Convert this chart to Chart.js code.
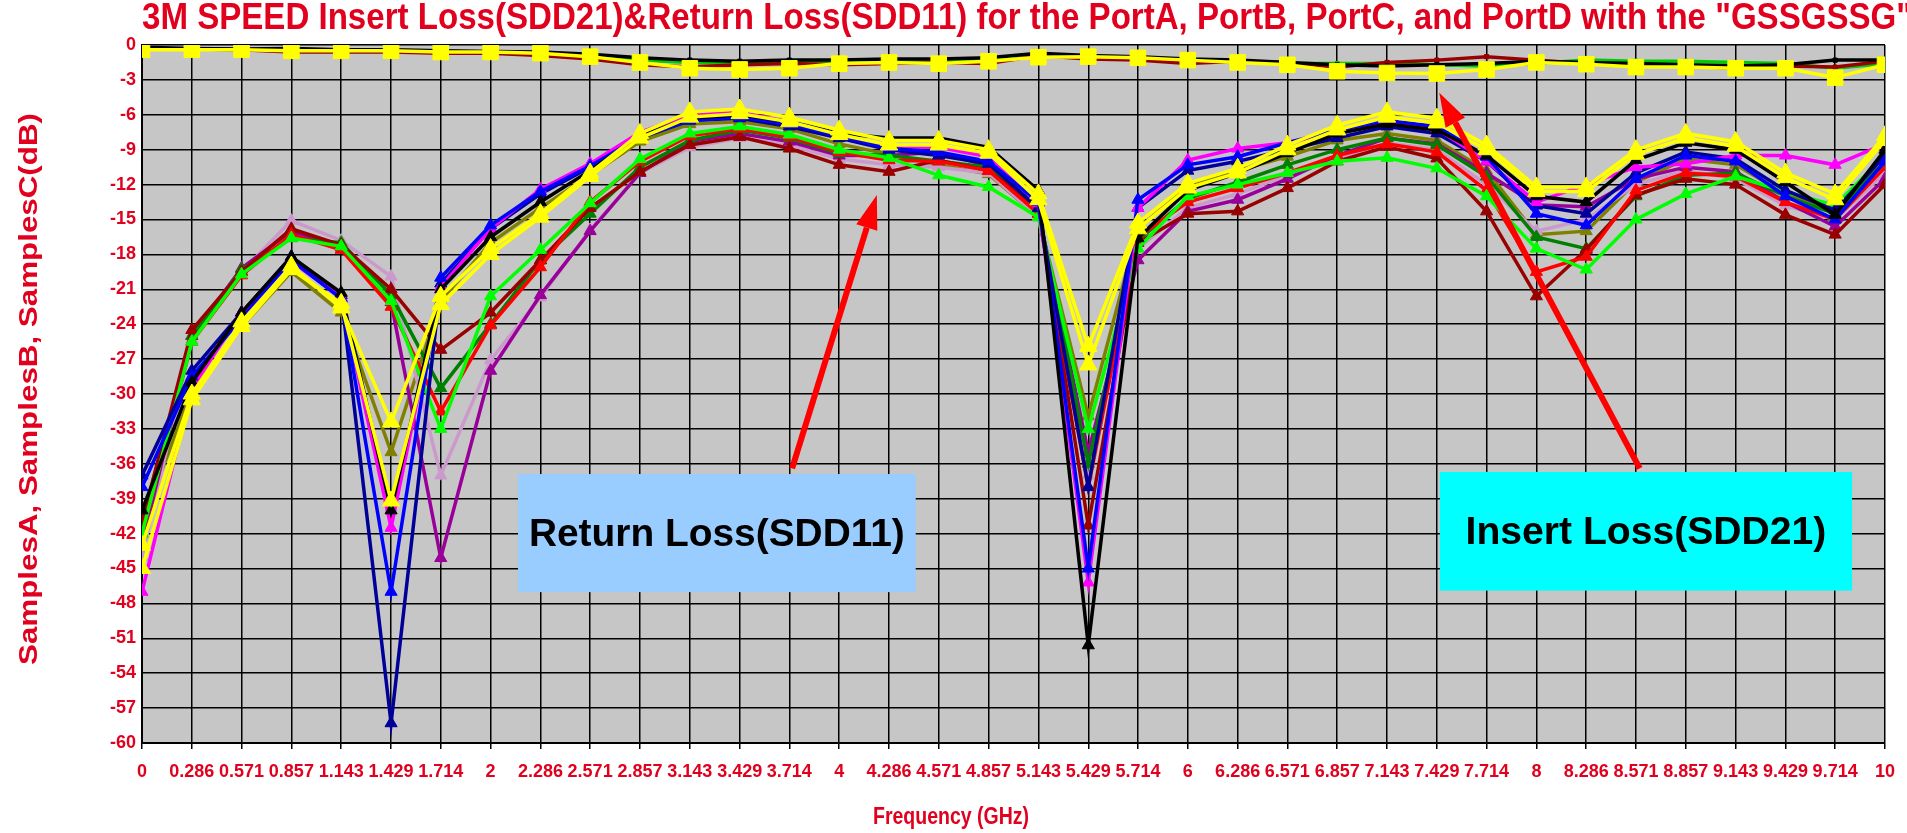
<!DOCTYPE html>
<html>
<head>
<meta charset="utf-8">
<script src="https://cdn.jsdelivr.net/npm/chart.js@4.4.1/dist/chart.umd.min.js"></script>
<style>
  html, body { margin: 0; padding: 0; background: #fff; }
  #wrap { width: 1907px; height: 833px; position: relative; }
</style>
</head>
<body>
<div id="wrap"><canvas id="lossChart"></canvas></div>
<script>
// Frequency ticks (GHz), as printed under the axis
const freqLabels = ['0', '0.286', '0.571', '0.857', '1.143', '1.429', '1.714', '2', '2.286', '2.571',
  '2.857', '3.143', '3.429', '3.714', '4', '4.286', '4.571', '4.857', '5.143', '5.429', '5.714', '6',
  '6.286', '6.571', '6.857', '7.143', '7.429', '7.714', '8', '8.286', '8.571', '8.857', '9.143',
  '9.429', '9.714', '10'];
const freq = freqLabels.map(Number);
const dbTicks = [0, -3, -6, -9, -12, -15, -18, -21, -24, -27, -30, -33, -36, -39, -42, -45, -48, -51, -54, -57, -60];

// Insert loss (SDD21), dB
const ilYellow = [-0.4, -0.4, -0.4, -0.5, -0.5, -0.5, -0.6, -0.6, -0.7, -1.0, -1.5, -2.0, -2.1, -2.0, -1.6, -1.5, -1.6, -1.4,
  -1.05, -1.0, -1.1, -1.3, -1.5, -1.7, -2.25, -2.4, -2.45, -2.1, -1.5, -1.65, -1.9, -1.9, -2.0, -2.0, -2.8, -1.7];
const ilBlack = [-0.2, -0.3, -0.35, -0.3, -0.4, -0.4, -0.5, -0.55, -0.6, -0.8, -1.1, -1.3, -1.4, -1.3, -1.3, -1.2, -1.2, -1.1,
  -0.7, -0.9, -1.0, -1.2, -1.3, -1.5, -1.7, -1.8, -1.7, -1.6, -1.4, -1.5, -1.6, -1.7, -1.8, -1.7, -1.3, -1.3];
const ilDarkRed = [-0.3, -0.35, -0.4, -0.6, -0.6, -0.6, -0.7, -0.7, -0.9, -1.2, -1.7, -1.9, -1.7, -1.6, -1.7, -1.6, -1.5, -1.6,
  -0.9, -1.2, -1.3, -1.6, -1.4, -1.5, -1.9, -1.5, -1.3, -1.0, -1.3, -1.6, -1.7, -1.8, -2.0, -1.8, -1.9, -1.4];
const ilGreen = [-0.3, -0.35, -0.4, -0.45, -0.5, -0.5, -0.6, -0.6, -0.7, -0.9, -1.3, -1.5, -1.6, -1.5, -1.5, -1.4, -1.4, -1.3,
  -0.9, -1.1, -1.2, -1.3, -1.4, -1.6, -1.6, -1.6, -1.7, -1.8, -1.6, -1.3, -1.4, -1.4, -1.5, -1.6, -2.0, -1.6];

// Return loss (SDD11), dB
const rlYellowA = [-43, -30, -23.8, -19, -22.6, -32.4, -21.6, -17.5, -14.5, -11, -7.6, -5.75, -5.5, -6.2, -7.3, -8.2, -8.2, -9.0,
  -12.8, -25.9, -15.3, -11.9, -10.6, -8.6, -6.9, -5.75, -6.3, -8.6, -12.2, -12.2, -9.0, -7.6, -8.3, -11.0, -12.8, -7.8];
const rlYellowB = [-45, -30.5, -24.2, -19.3, -22.2, -39.2, -22.3, -18.0, -14.8, -11.3, -8.0, -6.2, -5.9, -6.6, -7.7, -8.6, -8.6, -9.3,
  -13.3, -27.5, -15.8, -12.3, -11.0, -9.0, -7.3, -6.2, -6.7, -9.0, -12.6, -12.6, -9.4, -8.0, -8.7, -11.4, -13.3, -8.2];
const rlBlack = [-40, -29, -23, -18.2, -21.3, -40, -21, -16.5, -13.5, -10.8, -7.8, -6.3, -6.0, -6.6, -7.6, -8.0, -8.0, -8.8,
  -12.5, -51.6, -16.6, -12.5, -11, -9.3, -7.6, -6.8, -7.3, -9.5, -13, -13.5, -9.9, -8.4, -9.0, -11.8, -14.6, -9.0];
const rlBlue = [-38, -28.5, -23.5, -18.5, -21.8, -47, -20, -15.5, -12.6, -10.4, -7.9, -6.5, -6.2, -6.8, -7.8, -8.9, -9.2, -10.0,
  -13.5, -45, -13.3, -10.3, -9.6, -8.4, -7.3, -6.5, -7.0, -9.6, -14.5, -15.5, -11.5, -9.5, -10.0, -13.0, -15.0, -10.0];
const rlNavy = [-37, -28, -23, -18.2, -21.5, -58.3, -20.5, -15.8, -12.8, -10.5, -8.0, -6.5, -6.3, -7.0, -8.0, -9.0, -9.5, -10.2,
  -14.0, -38, -14.0, -10.8, -10.0, -9.0, -8.0, -7.0, -7.6, -10.0, -13.8, -14.5, -11.0, -9.2, -9.8, -12.5, -14.2, -9.5];
const rlMagenta = [-47, -29.5, -23, -18.6, -21.7, -41.5, -20.8, -15.8, -12.4, -10.2, -7.5, -6.0, -5.8, -6.6, -7.8, -8.8, -8.8, -9.6,
  -13.6, -46.2, -14.0, -9.9, -8.9, -8.4, -7.5, -6.6, -7.2, -10.0, -13.5, -12.0, -10.5, -10.2, -9.5, -9.5, -10.3, -8.5];
const rlOlive = [-41, -29.8, -24.2, -19.5, -23, -35, -22.0, -17.0, -14.0, -11.2, -8.3, -6.8, -6.6, -7.2, -8.5, -9.4, -10.3, -11.1,
  -14.8, -31.9, -15.8, -12.2, -10.8, -9.6, -8.2, -7.6, -8.2, -10.8, -16.3, -16.0, -11.8, -9.8, -10.3, -12.8, -14.2, -9.8];
const rlPurple = [-43, -25, -19.2, -16.0, -17.4, -22.1, -44.1, -28, -21.5, -16, -11.0, -8.3, -7.6, -8.3, -9.5, -9.5, -9.2, -10.4,
  -14.5, -35, -18.5, -14.3, -13.3, -11.5, -9.5, -8.0, -8.5, -11.0, -13.75, -13.9, -11.5, -10.5, -10.9, -13.5, -15.6, -11.5];
const rlDarkRed = [-41, -24.5, -19.5, -15.8, -17.2, -21, -26.2, -23.0, -18.5, -14, -10.9, -8.6, -7.9, -8.9, -10.3, -10.9, -9.9, -10.8,
  -14.0, -41.3, -17, -14.5, -14.3, -12.3, -10.0, -8.75, -9.75, -14.3, -21.6, -17.6, -12.9, -11.5, -12.0, -14.6, -16.3, -12.0];
const rlRed = [-42, -25.5, -19.8, -16.3, -17.6, -22.5, -31.5, -24.1, -19.1, -13.5, -10, -7.8, -7.2, -7.9, -9.2, -9.9, -10.0, -10.8,
  -14.5, -38, -16.5, -13.5, -12.3, -11, -9.5, -8.5, -9.2, -12.5, -19.5, -18.2, -12.5, -11.0, -11.3, -13.5, -15.0, -10.5];
const rlLime = [-42, -25.5, -19.7, -16.6, -17.3, -22, -33, -21.6, -17.6, -13.6, -9.8, -7.6, -7.0, -7.7, -9.0, -9.7, -11.2, -12.2,
  -14.8, -33, -17.5, -13, -12, -11, -10, -9.7, -10.6, -13, -17.5, -19.3, -15.0, -12.8, -11.3, -12.6, -13.8, -9.5];
const rlGreen = [-41, -25, -19.3, -16.6, -17.0, -21.5, -29.5, -24, -18.5, -14.5, -10.5, -8.2, -7.3, -8.0, -9.3, -9.5, -10.0, -10.5,
  -14.2, -36, -16.8, -13.2, -11.8, -10.3, -9.0, -8.0, -8.6, -11.3, -16.5, -17.5, -13.0, -11.2, -11.0, -13.0, -14.5, -10.0];
const rlLavender = [-44, -25.3, -19.5, -15.1, -16.8, -19.9, -37, -27.1, -21.7, -15.9, -11.0, -8.8, -8.0, -8.6, -9.8, -10.3, -10.5, -11.0,
  -14.8, -37, -17.5, -14.0, -12.8, -11.2, -9.8, -8.4, -9.0, -12.0, -16.0, -15.0, -12.0, -10.8, -11.5, -13.8, -15.0, -11.0];

// Callout boxes and arrows, placed in data units (GHz, dB)
const notes = [
  { text: 'Return Loss(SDD11)', x0: 2.157, x1: 4.439, y0: -36.88, y1: -47.03, fill: '#99ccff', textFrac: 0.945 },
  { text: 'Insert Loss(SDD21)', x0: 7.446, x1: 9.811, y0: -36.7, y1: -46.9, fill: '#00ffff', textFrac: 0.875 }
];
const arrows = [
  { from: [3.73, -36.4], to: [4.216, -12.9] },
  { from: [8.593, -36.4], to: [7.443, -4.1] }
];

const RED = '#e1001e';
const FONT = "'Liberation Sans', Arial, sans-serif";
const TITLE = '3M SPEED Insert Loss(SDD21)&Return Loss(SDD11) for the PortA, PortB, PortC, and PortD with the "GSSGSSG"';

function pts(values) {
  return values.map((v, i) => ({ x: freq[i], y: v }));
}

function line(label, values, color, style, radius) {
  return {
    label: label,
    data: pts(values),
    borderColor: color,
    backgroundColor: color,
    pointBackgroundColor: color,
    pointBorderColor: color,
    pointBorderWidth: 1,
    borderWidth: 3.5,
    pointStyle: style,
    pointRadius: radius,
    tension: 0
  };
}

// first dataset ends up on top
const datasets = [
  line('SDD21 A', ilYellow, '#ffff00', 'rect', 11),
  line('SDD11 A1', rlYellowA, '#ffff00', 'triangle', 10),
  line('SDD11 A2', rlYellowB, '#ffff00', 'triangle', 10),
  line('SDD21 B', ilBlack, '#000000', 'rect', 3),
  line('SDD21 C', ilDarkRed, '#990000', 'rect', 3),
  line('SDD21 D', ilGreen, '#00cc00', 'rect', 3),
  line('SDD11 B1', rlBlack, '#000000', 'triangle', 7),
  line('SDD11 B2', rlBlue, '#0000ff', 'triangle', 7),
  line('SDD11 B3', rlMagenta, '#ff00ff', 'triangle', 7),
  line('SDD11 B4', rlNavy, '#000099', 'triangle', 7),
  line('SDD11 C1', rlLime, '#00ff00', 'triangle', 7),
  line('SDD11 C2', rlRed, '#ff0000', 'triangle', 7),
  line('SDD11 C3', rlDarkRed, '#990000', 'triangle', 7),
  line('SDD11 C4', rlGreen, '#008000', 'triangle', 7),
  line('SDD11 D1', rlPurple, '#990099', 'triangle', 7),
  line('SDD11 D2', rlLavender, '#cc99cc', 'triangle', 7),
  line('SDD11 D3', rlOlive, '#808000', 'triangle', 7)
];

// text squeezed or stretched to a given width
function fitText(ctx, text, cx, cy, width, size, color, rotation) {
  ctx.save();
  ctx.translate(cx, cy);
  if (rotation) ctx.rotate(rotation);
  ctx.font = 'bold ' + size + 'px ' + FONT;
  const w = ctx.measureText(text).width;
  ctx.scale(width / w, 1);
  ctx.fillStyle = color;
  ctx.textAlign = 'center';
  ctx.textBaseline = 'middle';
  ctx.fillText(text, 0, 0);
  ctx.restore();
}

function drawArrow(ctx, x0, y0, x1, y1) {
  const ang = Math.atan2(y1 - y0, x1 - x0);
  const head = 34, half = 11;
  const bx = x1 - head * Math.cos(ang), by = y1 - head * Math.sin(ang);
  ctx.save();
  ctx.strokeStyle = '#ff0000';
  ctx.fillStyle = '#ff0000';
  ctx.lineWidth = 6;
  ctx.beginPath();
  ctx.moveTo(x0, y0);
  ctx.lineTo(bx, by);
  ctx.stroke();
  ctx.beginPath();
  ctx.moveTo(x1, y1);
  ctx.lineTo(bx + half * Math.sin(ang), by - half * Math.cos(ang));
  ctx.lineTo(bx - half * Math.sin(ang), by + half * Math.cos(ang));
  ctx.closePath();
  ctx.fill();
  ctx.restore();
}

const decorations = {
  id: 'decorations',
  beforeDraw(chart) {
    const { ctx, chartArea: a } = chart;
    ctx.save();
    ctx.fillStyle = '#ffffff';
    ctx.fillRect(0, 0, chart.width, chart.height);
    ctx.fillStyle = '#c6c6c6';
    ctx.fillRect(a.left, a.top, a.right - a.left, a.bottom - a.top);
    ctx.restore();
  },
  afterDatasetsDraw(chart) {
    const { ctx, scales: { x, y } } = chart;
    notes.forEach(n => {
      const l = x.getPixelForValue(n.x0), r = x.getPixelForValue(n.x1);
      const t = y.getPixelForValue(n.y0), b = y.getPixelForValue(n.y1);
      ctx.fillStyle = n.fill;
      ctx.fillRect(l, t, r - l, b - t);
      fitText(ctx, n.text, (l + r) / 2, (t + b) / 2 + 2, (r - l) * n.textFrac, 38, '#000000');
    });
    arrows.forEach(a => {
      drawArrow(ctx, x.getPixelForValue(a.from[0]), y.getPixelForValue(a.from[1]),
        x.getPixelForValue(a.to[0]), y.getPixelForValue(a.to[1]));
    });
  },
  afterDraw(chart) {
    const { ctx, chartArea: a } = chart;
    // main title starts at the plot's left edge and runs off the right side
    fitText(ctx, TITLE, a.left + 1770 / 2, 19, 1770, 36, RED);
    fitText(ctx, 'SamplesA, SamplesB, SamplesC(dB)', 30, (a.top + a.bottom) / 2 - 5, 552, 26, RED, -Math.PI / 2);
    fitText(ctx, 'Frequency (GHz)', 951, 817, 156, 24, RED);
  }
};

const ctx = document.getElementById('lossChart').getContext('2d');
new Chart(ctx, {
  type: 'line',
  data: { datasets: datasets },
  options: {
    responsive: true,
    maintainAspectRatio: false,
    animation: false,
    events: [],
    layout: { padding: { left: 0, right: 17, top: 45, bottom: 0 } },
    plugins: {
      legend: { display: false },
      tooltip: { enabled: false },
      title: { display: false }
    },
    scales: {
      x: {
        type: 'linear',
        min: 0,
        max: 10,
        afterBuildTicks: axis => { axis.ticks = freq.map(v => ({ value: v })); },
        afterFit: axis => { axis.height = 90; },
        grid: { color: '#000000', lineWidth: 1.5, drawTicks: true, tickLength: 6, tickColor: '#000000' },
        border: { color: '#000000', width: 2 },
        ticks: {
          autoSkip: false,
          maxRotation: 0,
          padding: 12,
          color: RED,
          font: { family: FONT, size: 18, weight: 'bold' },
          callback: (v, i) => freqLabels[i]
        }
      },
      y: {
        min: -60,
        max: 0,
        afterBuildTicks: axis => { axis.ticks = dbTicks.map(v => ({ value: v })); },
        afterFit: axis => { axis.width = 142; },
        grid: { color: '#000000', lineWidth: 1.5, drawTicks: false },
        border: { color: '#000000', width: 2 },
        ticks: {
          padding: 6,
          color: RED,
          font: { family: FONT, size: 18, weight: 'bold' },
          callback: v => String(v)
        }
      }
    }
  },
  plugins: [decorations]
});
</script>
</body>
</html>
